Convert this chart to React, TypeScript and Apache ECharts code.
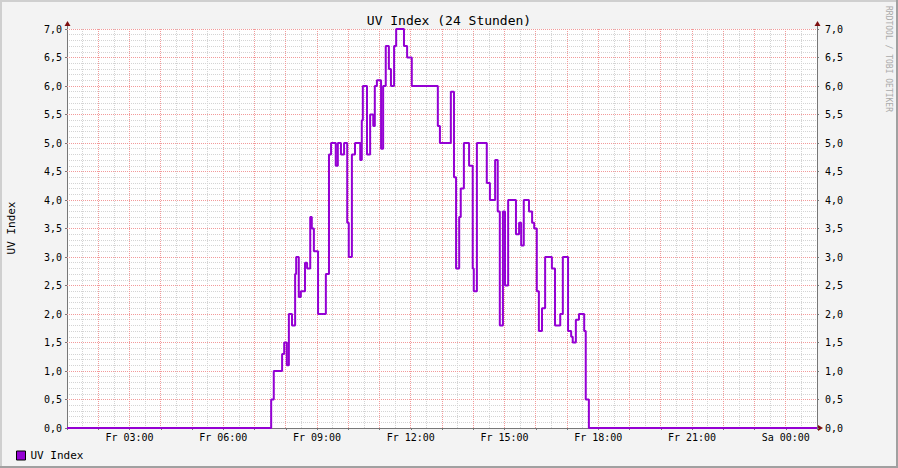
import React, { useEffect, useRef } from "react";
import * as echarts from "echarts";

const title = "UV Index (24 Stunden)";
const seriesName = "UV Index";
const yTicks = [0, 0.5, 1, 1.5, 2, 2.5, 3, 3.5, 4, 4.5, 5, 5.5, 6, 6.5, 7];
// major vertical grid lines (minutes since Friday 00:00)
const hourLines = [120, 180, 240, 300, 360, 420, 480, 540, 600, 660, 720, 780, 840, 900, 960, 1020, 1080, 1140, 1200, 1260, 1320, 1380, 1440];
// time of each step start (HH:MM, Friday; 25:00 = Saturday 01:00)
const times = [
  "01:00", "07:32", "07:37", "07:53", "07:57", "08:02", "08:06", "08:12", "08:18", "08:20",
  "08:25", "08:29", "08:37", "08:41", "08:47", "08:50", "08:54", "09:02", "09:17", "09:23",
  "09:27", "09:36", "09:40", "09:46", "09:52", "09:58", "10:01", "10:07", "10:13", "10:23",
  "10:26", "10:28", "10:36", "10:42", "10:48", "10:51", "10:55", "11:03", "11:07", "11:12",
  "11:18", "11:22", "11:28", "11:32", "11:47", "11:53", "12:02", "12:52", "12:56", "13:17",
  "13:23", "13:27", "13:33", "13:36", "13:42", "13:52", "13:59", "14:01", "14:07", "14:26",
  "14:32", "14:42", "14:47", "14:51", "14:57", "15:01", "15:07", "15:22", "15:28", "15:32",
  "15:37", "15:47", "15:53", "15:57", "16:02", "16:06", "16:12", "16:18", "16:31", "16:37",
  "16:47", "16:52", "17:02", "17:08", "17:11", "17:17", "17:23", "17:33", "17:36", "17:42",
  "25:00",
];
const uvValues = [
  0, 0.5, 1.0, 1.3, 1.5, 1.1, 2.0, 1.8, 2.7, 3.0,
  2.3, 2.4, 2.9, 2.8, 3.7, 3.5, 3.1, 2.0, 2.7, 4.8,
  5.0, 4.6, 5.0, 4.8, 5.0, 3.6, 3.0, 4.8, 5.0, 4.7,
  5.4, 6.0, 4.8, 5.5, 5.3, 6.0, 6.1, 4.9, 6.0, 6.7,
  6.3, 6.0, 6.7, 7.0, 6.7, 6.5, 6.0, 5.3, 5.0, 5.9,
  4.4, 2.8, 3.7, 4.2, 5.0, 4.6, 2.8, 2.4, 5.0, 4.3,
  4.0, 4.7, 3.8, 1.8, 3.8, 2.5, 4.0, 3.4, 3.6, 3.2,
  4.0, 3.8, 3.6, 3.5, 2.4, 1.7, 2.1, 3.0, 2.8, 1.8,
  2.0, 3.0, 1.7, 1.6, 1.5, 1.9, 2.0, 1.7, 0.5, 0,
  0,
];

const toMin = (s: string) => {
  const [h, m] = s.split(":").map(Number);
  return h * 60 + m;
};

const MONO = "DejaVu Sans Mono";
const MAJOR = "#f29a9a";
const MINOR = "#d4d4d4";

export default function App() {
  const ref = useRef<HTMLDivElement>(null);
  useEffect(() => {
    if (!ref.current) return;
    const chart = echarts.init(ref.current, undefined, { renderer: "svg" });
    const data = times.map((t, i) => [toMin(t), uvValues[i]]);
    const fmtY = (v: number) => v.toFixed(1).replace(".", ",");
    const fmtX = (v: number) => {
      if (v % 180 !== 0) return "";
      const h = v / 60;
      const day = h >= 24 ? "Sa" : "Fr";
      const hh = String(h % 24).padStart(2, "0");
      return `${day} ${hh}:00`;
    };
    const xMin = 60;
    const xMax = 1500;
    const yMin = yTicks[0];
    const yMax = yTicks[yTicks.length - 1];
    const yLabel = { formatter: fmtY, fontFamily: MONO, fontSize: 10, color: "#000" };
    const hiddenAxis = {
      axisLabel: { show: false },
      axisTick: { show: false },
      axisLine: { show: false },
    };
    chart.setOption({
      animation: false,
      backgroundColor: "#f3f3f3",
      title: {
        text: title,
        left: "center",
        top: 9,
        textStyle: { fontFamily: MONO, fontSize: 13, fontWeight: "normal", color: "#000" },
      },
      legend: {
        left: 11,
        top: 445,
        icon: "rect",
        itemWidth: 9,
        itemHeight: 9,
        itemGap: 10,
        itemStyle: { borderColor: "#000", borderWidth: 1 },
        textStyle: { fontFamily: MONO, fontSize: 11, color: "#000" },
        data: [seriesName],
      },
      grid: {
        left: 67,
        right: 81,
        top: 29,
        bottom: 40,
        show: true,
        backgroundColor: "#ffffff",
        borderWidth: 0,
        outerBoundsMode: "none",
      },
      xAxis: [
        {
          type: "value",
          min: xMin,
          max: xMax,
          interval: 60,
          position: "top",
          ...hiddenAxis,
          splitLine: { show: false },
          minorTick: { show: false, splitNumber: 2 },
          minorSplitLine: { show: true, lineStyle: { color: MINOR, type: [1, 1], width: 1 } },
        },
        {
          type: "value",
          min: xMin,
          max: xMax,
          interval: 60,
          position: "bottom",
          axisLabel: {
            formatter: fmtX,
            fontFamily: MONO,
            fontSize: 10,
            color: "#000",
            margin: 4,
            showMinLabel: true,
            showMaxLabel: true,
            hideOverlap: false,
          },
          axisTick: { show: true, length: 2, lineStyle: { color: "#777" } },
          axisLine: { show: true, onZero: false, lineStyle: { color: "#777", width: 1 } },
          splitLine: { show: false },
        },
      ],
      yAxis: [
        {
          type: "value",
          min: yMin,
          max: yMax,
          interval: 0.5,
          position: "left",
          ...hiddenAxis,
          splitLine: { show: false },
          minorTick: { show: false, splitNumber: 5 },
          minorSplitLine: { show: true, lineStyle: { color: MINOR, type: [1, 1], width: 1 } },
        },
        {
          type: "value",
          min: yMin,
          max: yMax,
          interval: 0.5,
          position: "left",
          axisLabel: { ...yLabel, margin: 5 },
          axisTick: { show: true, length: 2, lineStyle: { color: "#777" } },
          axisLine: { show: true, onZero: false, lineStyle: { color: "#777", width: 1 } },
          splitLine: { show: false },
        },
        {
          type: "value",
          min: yMin,
          max: yMax,
          interval: 0.5,
          position: "right",
          axisLabel: { ...yLabel, margin: 8 },
          axisTick: { show: true, length: 2, lineStyle: { color: "#777" } },
          axisLine: { show: true, onZero: false, lineStyle: { color: "#777", width: 1 } },
          splitLine: { show: false },
        },
      ],
      series: [
        {
          name: seriesName,
          type: "line",
          step: "end",
          xAxisIndex: 1,
          yAxisIndex: 1,
          data,
          showSymbol: false,
          symbol: "none",
          lineStyle: { color: "#9400d3", width: 2 },
          itemStyle: { color: "#9400d3" },
          z: 5,
        },
      ],
    });

    // major grid lines positioned through the chart's own scales
    const px = (m: number) => chart.convertToPixel({ xAxisIndex: 1 }, m) as number;
    const py = (v: number) => chart.convertToPixel({ yAxisIndex: 1 }, v) as number;
    const crisp = (p: number) => Math.round(p - 0.5) + 0.5;
    const left = px(xMin);
    const right = px(xMax);
    const top = py(yMax);
    const bottom = py(yMin);
    const gridLines: any[] = [];
    hourLines.forEach((m, i) => {
      const x = crisp(px(m));
      gridLines.push({
        type: "line",
        id: `vg${i}`,
        z: 1,
        silent: true,
        shape: { x1: x, y1: top, x2: x, y2: bottom },
        style: { stroke: MAJOR, lineWidth: 1, lineDash: [1, 1] },
      });
    });
    yTicks
      .filter((v) => v > yMin && v < yMax)
      .forEach((v, i) => {
        const y = crisp(py(v));
        gridLines.push({
          type: "line",
          id: `hg${i}`,
          z: 1,
          silent: true,
          shape: { x1: left, y1: y, x2: right, y2: y },
          style: { stroke: MAJOR, lineWidth: 1, lineDash: [1, 1] },
        });
      });
    // top grid border line at max value
    const yTop = crisp(top);
    gridLines.push({
      type: "line",
      id: "hgtop",
      z: 1,
      silent: true,
      shape: { x1: left, y1: yTop, x2: right, y2: yTop },
      style: { stroke: MAJOR, lineWidth: 1, lineDash: [1, 1] },
    });

    chart.setOption({
      graphic: [
        ...gridLines,
        // frame
        { type: "rect", id: "f1", shape: { x: 0, y: 0, width: 898, height: 2 }, style: { fill: "#cfcfcf" }, silent: true },
        { type: "rect", id: "f2", shape: { x: 0, y: 0, width: 2, height: 468 }, style: { fill: "#cfcfcf" }, silent: true },
        { type: "rect", id: "f3", shape: { x: 0, y: 466, width: 898, height: 2 }, style: { fill: "#a0a0a0" }, silent: true },
        { type: "rect", id: "f4", shape: { x: 896, y: 0, width: 2, height: 468 }, style: { fill: "#a0a0a0" }, silent: true },
        // axis extensions and arrows
        { type: "line", id: "a1", shape: { x1: 67.5, y1: 24, x2: 67.5, y2: 29 }, style: { stroke: "#777", lineWidth: 1 }, silent: true },
        { type: "line", id: "a2", shape: { x1: 817.5, y1: 24, x2: 817.5, y2: 29 }, style: { stroke: "#777", lineWidth: 1 }, silent: true },
        { type: "polygon", id: "a3", shape: { points: [[64.5, 26], [70.5, 26], [67.5, 21]] }, style: { fill: "#7f1010" }, silent: true },
        { type: "polygon", id: "a4", shape: { points: [[814.5, 26], [820.5, 26], [817.5, 21]] }, style: { fill: "#7f1010" }, silent: true },
        { type: "polygon", id: "a5", shape: { points: [[818, 425], [818, 431], [823, 428]] }, style: { fill: "#7f1010" }, silent: true },
        // y axis title
        {
          type: "text",
          id: "yname",
          x: 11,
          y: 228,
          rotation: Math.PI / 2,
          style: { text: "UV Index", fontFamily: MONO, fontSize: 11, fill: "#000", align: "center", verticalAlign: "middle" },
          silent: true,
        },
        // watermark
        {
          type: "text",
          id: "wm",
          x: 888,
          y: 59,
          rotation: -Math.PI / 2,
          style: { text: "RRDTOOL / TOBI OETIKER", fontFamily: MONO, fontSize: 8, fill: "#aaaaaa", align: "center", verticalAlign: "middle" },
          silent: true,
        },
      ],
    });
    return () => chart.dispose();
  }, []);
  return (
    <div
      ref={ref}
      style={{ position: "absolute", left: 0, top: 0, width: 898, height: 468 }}
    />
  );
}
